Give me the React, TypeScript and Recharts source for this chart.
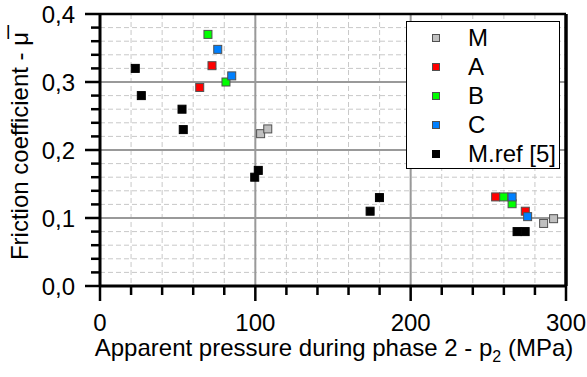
import React from 'react';
import { ScatterChart, Scatter, XAxis, YAxis, CartesianGrid, ReferenceLine, Legend } from 'recharts';

const FONT = '"Liberation Sans", Arial, sans-serif';

// Series data (x: apparent pressure MPa, y: friction coefficient)
const seriesM = [
  { x: 103.4, y: 0.224 },
  { x: 108.0, y: 0.231 },
  { x: 285.6, y: 0.092 },
  { x: 292.0, y: 0.099 },
];
const seriesA = [
  { x: 64.2, y: 0.292 },
  { x: 72.1, y: 0.324 },
  { x: 254.7, y: 0.131 },
  { x: 273.8, y: 0.11 },
];
const seriesB = [
  { x: 69.5, y: 0.37 },
  { x: 81.1, y: 0.3 },
  { x: 259.9, y: 0.131 },
  { x: 265.3, y: 0.121 },
];
const seriesC = [
  { x: 75.8, y: 0.348 },
  { x: 84.8, y: 0.309 },
  { x: 265.3, y: 0.131 },
  { x: 275.3, y: 0.102 },
];
const seriesMref = [
  { x: 22.7, y: 0.32 },
  { x: 26.6, y: 0.28 },
  { x: 52.8, y: 0.26 },
  { x: 53.6, y: 0.23 },
  { x: 99.6, y: 0.16 },
  { x: 101.9, y: 0.17 },
  { x: 173.9, y: 0.11 },
  { x: 179.9, y: 0.13 },
  { x: 268.5, y: 0.08 },
  { x: 273.7, y: 0.08 },
];

const seriesNames = ['M', 'A', 'B', 'C', 'M.ref [5]'];
const seriesFills = ['#c0c0c0', '#ff0000', '#00ff00', '#0080ff', '#000000'];
const seriesStrokes = ['#505050', '#505050', '#505050', '#505050', '#000000'];
const seriesData = [seriesM, seriesA, seriesB, seriesC, seriesMref];

const xTicks = [0, 20, 40, 60, 80, 100, 120, 140, 160, 180, 200, 220, 240, 260, 280, 300];
const xMajorTicks = [0, 100, 200, 300];
const xTickLabels = ['0', '100', '200', '300'];
const yTicks = [0, 0.02, 0.04, 0.06, 0.08, 0.1, 0.12, 0.14, 0.16, 0.18, 0.2, 0.22, 0.24, 0.26, 0.28, 0.3, 0.32, 0.34, 0.36, 0.38, 0.4];
const yMajorTicks = [0, 0.1, 0.2, 0.3, 0.4];
const yTickLabels = ['0,0', '0,1', '0,2', '0,3', '0,4'];
const xGridMajor = [100, 200];
const yGridMajor = [0.1, 0.2, 0.3];

const findIdx = (arr: number[], v: number) => arr.findIndex((t) => Math.abs(t - v) < 1e-6);

const XTick = (props: any) => {
  const { x, y, payload } = props;
  const idx = findIdx(xMajorTicks, payload.value);
  const major = idx >= 0;
  return (
    <g>
      <line x1={x} x2={x} y1={y} y2={y + (major ? 15 : 9)} stroke="#000" strokeWidth={2.5} />
      {major && (
        <text x={x} y={y + 44.5} textAnchor="middle" fontSize={24} fontFamily={FONT} fill="#000">
          {xTickLabels[idx]}
        </text>
      )}
    </g>
  );
};

const YTick = (props: any) => {
  const { x, y, payload } = props;
  const idx = findIdx(yMajorTicks, payload.value);
  const major = idx >= 0;
  return (
    <g>
      <line x1={x} x2={x - (major ? 15 : 9)} y1={y} y2={y} stroke="#000" strokeWidth={2.5} />
      {major && (
        <text x={x - 25} y={y + 8.5} textAnchor="end" fontSize={24} fontFamily={FONT} fill="#000">
          {yTickLabels[idx]}
        </text>
      )}
    </g>
  );
};

const makeShape = (fill: string, stroke: string) => (p: any) => (
  <rect x={p.cx - 4} y={p.cy - 4} width={8} height={8} fill={fill} stroke={stroke} strokeWidth={1} />
);

const renderLegend = () => (
  <div
    style={{
      width: 154,
      height: 148,
      border: '1.5px solid #000',
      background: '#fff',
      boxSizing: 'border-box',
      fontFamily: FONT,
      fontSize: 24,
      paddingTop: 0.5,
    }}
  >
    {seriesNames.map((n, i) => (
      <div key={n} style={{ position: 'relative', height: 29.2, lineHeight: '29.2px' }}>
        <span
          style={{
            position: 'absolute',
            left: 24.5,
            top: 11,
            width: 8,
            height: 8,
            boxSizing: 'border-box',
            background: seriesFills[i],
            border: `1px solid ${seriesStrokes[i]}`,
          }}
        />
        <span style={{ position: 'absolute', left: 61, top: 0, color: '#000', whiteSpace: 'nowrap' }}>{n}</span>
      </div>
    ))}
  </div>
);

export default function App() {
  return (
    <div style={{ position: 'absolute', left: 0, top: 0, width: 587, height: 377, background: '#fff' }}>
      <ScatterChart width={587} height={377} margin={{ top: 14, right: 21, bottom: 0, left: 0 }}>
        <CartesianGrid stroke="#c8c8c8" strokeDasharray="5 3" strokeWidth={1} />
        {xGridMajor.map((v) => (
          <ReferenceLine key={'gx' + v} x={v} stroke="#999" strokeWidth={2} />
        ))}
        {yGridMajor.map((v) => (
          <ReferenceLine key={'gy' + v} y={v} stroke="#999" strokeWidth={2} />
        ))}
        <ReferenceLine y={0.4} stroke="#000" strokeWidth={2.5} />
        <ReferenceLine x={300} stroke="#000" strokeWidth={3.5} />
        <XAxis
          type="number"
          dataKey="x"
          domain={[0, 300]}
          ticks={xTicks}
          interval={0}
          height={91}
          tickSize={0}
          tickMargin={0}
          tickLine={false}
          axisLine={{ stroke: '#000', strokeWidth: 3 }}
          tick={<XTick />}
          label={{
            content: () => (
              <text x={334} y={356} textAnchor="middle" fontSize={24} fontFamily={FONT} fill="#000">
                Apparent pressure during phase 2 - p
                <tspan dy={6} fontSize={16}>2</tspan>
                <tspan dy={-6}> (MPa)</tspan>
              </text>
            ),
          }}
        />
        <YAxis
          type="number"
          dataKey="y"
          domain={[0, 0.4]}
          ticks={yTicks}
          interval={0}
          width={100}
          tickSize={0}
          tickMargin={0}
          tickLine={false}
          axisLine={{ stroke: '#000', strokeWidth: 3 }}
          tick={<YTick />}
          label={{
            content: () => (
              <text
                x={28}
                y={146}
                transform="rotate(-90, 28, 146)"
                textAnchor="middle"
                fontSize={24}
                fontFamily={FONT}
                fill="#000"
              >
                {'Friction coefficient - \u03bc\u0305'}
              </text>
            ),
          }}
        />
        {seriesData.map((d, i) => (
          <Scatter
            key={seriesNames[i]}
            name={seriesNames[i]}
            data={d}
            fill={seriesFills[i]}
            shape={makeShape(seriesFills[i], seriesStrokes[i])}
            isAnimationActive={false}
          />
        ))}
        <Legend
          layout="horizontal"
          verticalAlign="middle"
          align="center"
          content={renderLegend}
          wrapperStyle={{ left: 406, top: 21, width: 154, height: 148 }}
        />
      </ScatterChart>
    </div>
  );
}
